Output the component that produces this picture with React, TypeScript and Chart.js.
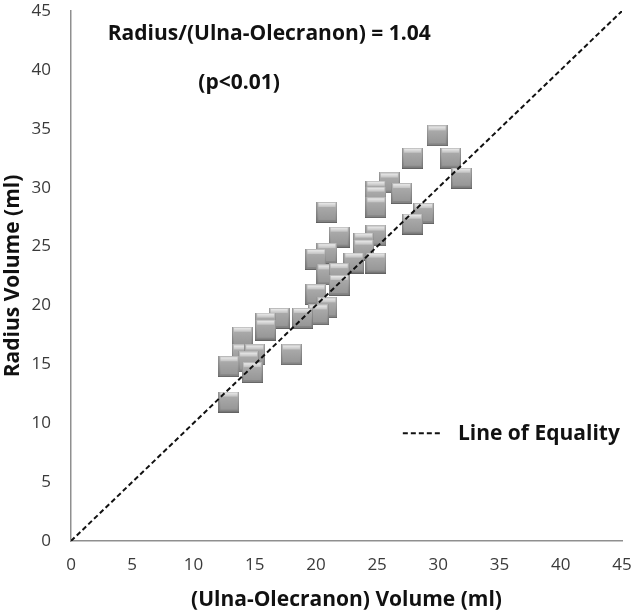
import React, { useEffect, useRef } from "react";
import { Chart, registerables } from "chart.js";

Chart.register(...registerables);

const ulnaOlecranon: number[] = [
  29.9, 27.9, 31.0, 31.9, 26.0, 24.9, 24.9, 24.9, 27.0, 28.8, 27.9, 24.9, 23.9, 23.9, 24.9, 23.1,
  20.9, 21.9, 20.9, 20.0, 20.9, 21.9, 21.9, 20.0, 20.9, 20.2, 18.9, 17.0, 15.9, 15.9, 14.0, 18.0,
  14.0, 15.0, 14.5, 12.9, 14.8, 12.9,
];
const radius: number[] = [
  34.4, 32.5, 32.5, 30.8, 30.4, 29.7, 29.2, 28.3, 29.5, 27.8, 26.9, 25.9, 25.3, 24.7, 23.6, 23.6,
  27.9, 25.8, 24.4, 23.9, 22.6, 22.7, 21.7, 20.9, 19.8, 19.2, 18.9, 18.9, 18.5, 17.9, 17.3, 15.8,
  15.8, 15.8, 15.2, 14.8, 14.3, 11.8,
];
const equalityX: number[] = [0, 45];
const equalityY: number[] = [0, 45];
const axisTicks: number[] = [0, 5, 10, 15, 20, 25, 30, 35, 40, 45];
const ratioText = "Radius/(Ulna-Olecranon) = 1.04";
const pText = "(p<0.01)";
const legendText = "Line of Equality";
const xTitle = "(Ulna-Olecranon) Volume (ml)";
const yTitle = "Radius Volume (ml)";

const FONT = "'Open Sans'";

function makeSquare(): HTMLCanvasElement {
  const s = 21;
  const c = document.createElement("canvas");
  c.width = s;
  c.height = s;
  const g = c.getContext("2d")!;
  const base = g.createLinearGradient(0, 0, 0, s);
  base.addColorStop(0, "#bcbcbc");
  base.addColorStop(1, "#7f7f7f");
  g.fillStyle = base;
  g.fillRect(0, 0, s, s);
  const face = g.createLinearGradient(0, 3, 0, s - 3);
  face.addColorStop(0, "#adadad");
  face.addColorStop(1, "#979797");
  g.fillStyle = face;
  g.fillRect(2, 4, s - 4, s - 7);
  const hi = g.createLinearGradient(0, 0, 0, 5);
  hi.addColorStop(0, "#f4f4f4");
  hi.addColorStop(1, "#c2c2c2");
  g.fillStyle = hi;
  g.fillRect(2, 1, s - 4, 4);
  g.fillStyle = "rgba(90,90,90,0.35)";
  g.fillRect(0, 0, 1, s);
  g.fillRect(s - 1, 0, 1, s);
  g.fillStyle = "rgba(70,70,70,0.5)";
  g.fillRect(0, s - 1, s, 1);
  return c;
}

const annotationPlugin = {
  id: "annotations",
  afterDatasetsDraw(chart: any) {
    const { ctx, scales } = chart;
    const xs = scales.x;
    const ys = scales.y;
    ctx.save();
    ctx.fillStyle = "#111111";
    ctx.textBaseline = "alphabetic";
    ctx.textAlign = "left";
    ctx.font = `bold 21px ${FONT}`;
    ctx.fillText(ratioText, xs.getPixelForValue(3.0), ys.getPixelForValue(42.55));
    ctx.fillText(pText, xs.getPixelForValue(10.4), ys.getPixelForValue(38.4));
    const lx0 = xs.getPixelForValue(27.1);
    const lx1 = xs.getPixelForValue(30.3);
    const ly = ys.getPixelForValue(9.15);
    ctx.strokeStyle = "#111111";
    ctx.lineWidth = 2;
    ctx.setLineDash([5, 3]);
    ctx.beginPath();
    ctx.moveTo(lx0, ly);
    ctx.lineTo(lx1, ly);
    ctx.stroke();
    ctx.setLineDash([]);
    ctx.font = `bold 21px ${FONT}`;
    ctx.fillText(legendText, xs.getPixelForValue(31.6), ys.getPixelForValue(8.56));
    ctx.restore();
  },
};

export default function App() {
  const ref = useRef<HTMLCanvasElement | null>(null);
  useEffect(() => {
    if (!ref.current) return;
    const square = makeSquare();
    const chart = new Chart(ref.current, {
      type: "scatter",
      data: {
        datasets: [
          {
            label: legendText,
            data: equalityX.map((x, i) => ({ x, y: equalityY[i] })),
            showLine: true,
            borderColor: "#111111",
            borderWidth: 2,
            borderDash: [5, 3],
            pointRadius: 0,
            fill: false,
          },
          {
            label: "Volumes",
            data: ulnaOlecranon.map((x, i) => ({ x, y: radius[i] })),
            pointStyle: square as any,
            pointRadius: 10,
            pointHoverRadius: 10,
          },
        ],
      },
      options: {
        responsive: false,
        animation: false,
        layout: { padding: 0 },
        plugins: {
          legend: { display: false },
          tooltip: { enabled: false },
        },
        scales: {
          x: {
            type: "linear",
            min: 0,
            max: 45,
            afterBuildTicks: (s: any) => {
              s.ticks = axisTicks.map((v) => ({ value: v }));
            },
            afterFit: (s: any) => {
              s.height = 74;
              s.paddingRight = 11;
              s.paddingLeft = 0;
            },
            grid: { display: false, drawTicks: false },
            border: { display: true, color: "#8f8f8f", width: 1.5 },
            ticks: {
              padding: 14,
              color: "#3a3a3a",
              font: { family: FONT, size: 17 },
            },
            title: {
              display: true,
              text: xTitle,
              color: "#111111",
              font: { family: FONT, size: 21, weight: "bold" },
              padding: { top: 0, bottom: 2 },
            },
          },
          y: {
            type: "linear",
            min: 0,
            max: 45,
            afterBuildTicks: (s: any) => {
              s.ticks = axisTicks.map((v) => ({ value: v }));
            },
            afterFit: (s: any) => {
              s.width = 71;
              s.paddingTop = 11;
              s.paddingBottom = 0;
            },
            grid: { display: false, drawTicks: false },
            border: { display: true, color: "#8f8f8f", width: 1.5 },
            ticks: {
              padding: 20,
              color: "#3a3a3a",
              font: { family: FONT, size: 17 },
            },
            title: {
              display: true,
              text: yTitle,
              color: "#111111",
              font: { family: FONT, size: 21, weight: "bold" },
              padding: { top: 0, bottom: 0 },
            },
          },
        },
      },
      plugins: [annotationPlugin],
    });
    return () => chart.destroy();
  }, []);
  return (
    <div style={{ position: "fixed", left: 0, top: 0, width: 633, height: 615, background: "#ffffff" }}>
      <canvas ref={ref} width={633} height={615} style={{ display: "block" }} />
    </div>
  );
}
